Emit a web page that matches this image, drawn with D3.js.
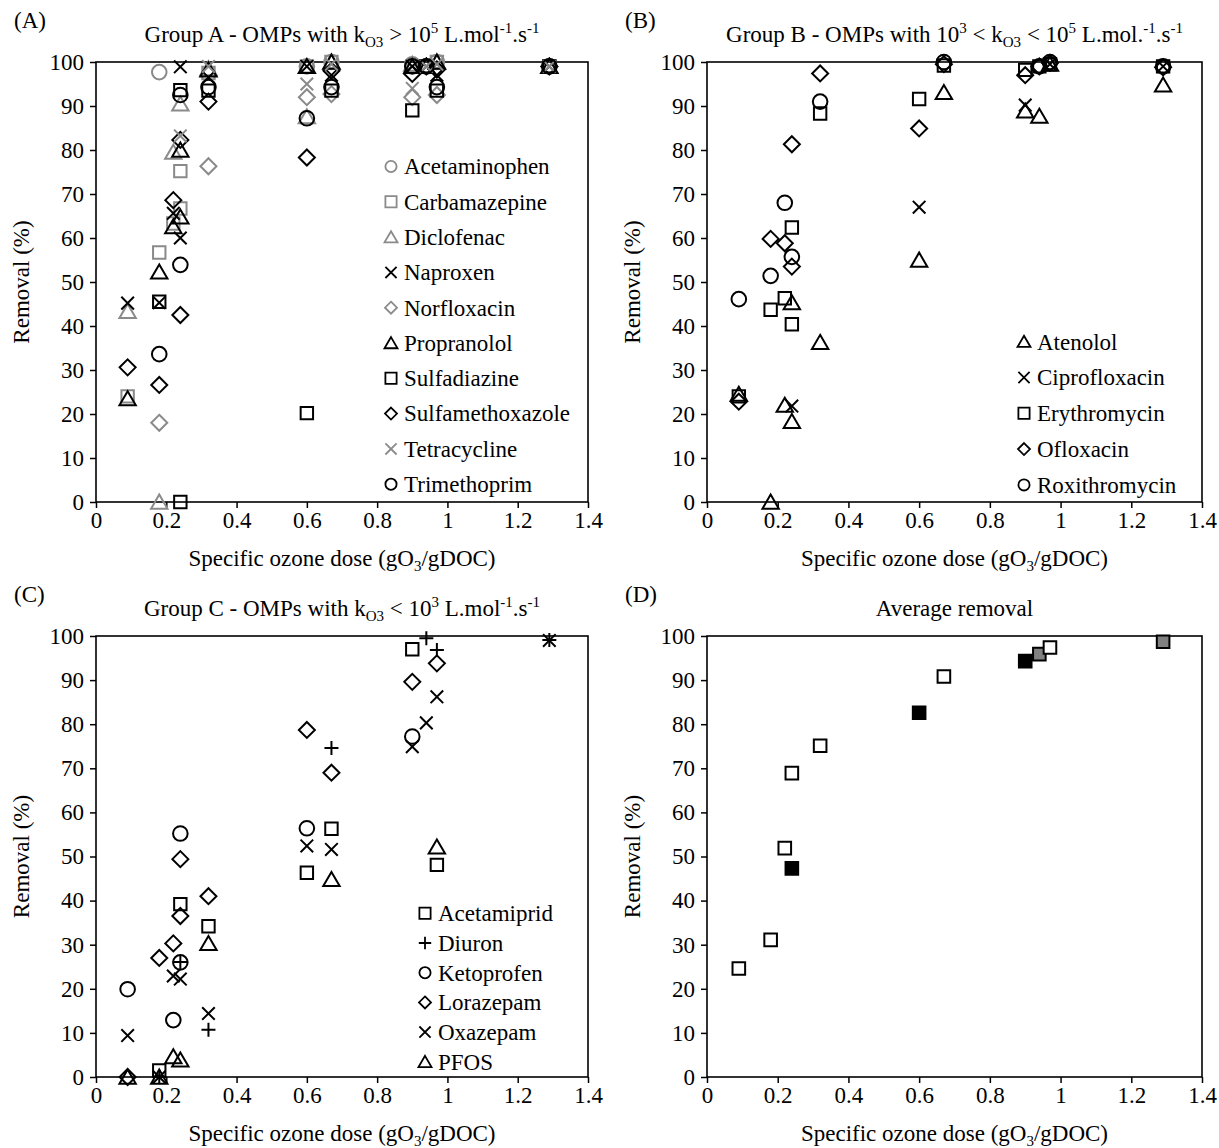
<!DOCTYPE html>
<html><head><meta charset="utf-8">
<script src="https://cdn.jsdelivr.net/npm/d3@7"></script>
<style>body{margin:0;background:#fff}svg{display:block}</style>
</head><body>
<svg id="chart" width="1219" height="1148"></svg>
<script>
// ---------------- DATA ----------------
const xTicks = [0, 0.2, 0.4, 0.6, 0.8, 1.0, 1.2, 1.4];
const yTicks = [0, 10, 20, 30, 40, 50, 60, 70, 80, 90, 100];

// Panel A - Group A
const acetaminophen = [[0.18,97.7],[0.60,99],[0.67,100],[0.90,99.5],[0.94,99],[0.97,100],[1.29,99]];
const carbamazepine = [[0.09,24],[0.18,56.7],[0.22,63.3],[0.24,75.2],[0.24,66.7],[0.32,97.5],[0.60,99],[0.67,100],[0.90,99],[0.94,99],[0.97,100],[1.29,99]];
const diclofenac = [[0.09,43.3],[0.18,0],[0.22,79.5],[0.24,90.5],[0.32,98.5],[0.60,87.6],[0.67,100],[0.90,99.5],[0.94,99],[0.97,100],[1.29,99]];
const naproxen = [[0.09,45.2],[0.18,45.3],[0.22,65.6],[0.24,98.9],[0.24,60],[0.32,96.5],[0.60,99],[0.67,97],[0.90,99],[0.94,99],[0.97,97],[1.29,99]];
const norfloxacin = [[0.18,18],[0.32,76.3],[0.60,92],[0.67,92.7],[0.90,92],[0.94,99],[0.97,92.5],[1.29,99]];
const propranolol = [[0.09,23.5],[0.18,52.3],[0.22,62.6],[0.24,80],[0.24,64.8],[0.32,98.2],[0.60,99],[0.67,100],[0.90,99],[0.94,99],[0.97,100],[1.29,99]];
const sulfadiazine = [[0.18,45.5],[0.24,93.6],[0.24,0],[0.32,93.5],[0.60,20.2],[0.67,93.5],[0.90,89],[0.94,99],[0.97,93.5],[1.29,99]];
const sulfamethoxazole = [[0.09,30.6],[0.18,26.6],[0.22,68.6],[0.24,82.3],[0.24,42.5],[0.32,91],[0.60,78.3],[0.67,98],[0.90,97.3],[0.94,99],[0.97,98.3],[1.29,99]];
const tetracycline = [[0.24,83.2],[0.32,99],[0.60,95],[0.67,99.5],[0.90,94],[0.94,99],[0.97,99.5],[1.29,99]];
const trimethoprim = [[0.18,33.6],[0.24,92.5],[0.24,53.9],[0.32,94.3],[0.60,87.2],[0.67,94.3],[0.90,99],[0.94,99],[0.97,94.3],[1.29,99]];

// Panel B - Group B
const atenolol = [[0.09,24.5],[0.18,0],[0.22,22],[0.24,45.3],[0.24,18.3],[0.32,36.3],[0.60,55],[0.67,93.1],[0.90,88.9],[0.94,87.7],[0.97,99.5],[1.29,94.8]];
const ciprofloxacin = [[0.24,21.8],[0.60,67],[0.90,90.2],[0.97,99.5],[1.29,99]];
const erythromycin = [[0.09,24],[0.18,43.7],[0.22,46.3],[0.24,62.4],[0.24,40.4],[0.32,88.3],[0.60,91.6],[0.67,99.2],[0.90,98.2],[0.94,99],[0.97,99.5],[1.29,99]];
const ofloxacin = [[0.09,22.8],[0.18,59.8],[0.22,58.8],[0.24,81.3],[0.24,53.5],[0.32,97.4],[0.60,84.9],[0.67,99.5],[0.90,97],[0.94,99],[0.97,99.8],[1.29,98.8]];
const roxithromycin = [[0.09,46.1],[0.18,51.4],[0.22,68],[0.24,55.7],[0.32,91],[0.67,100],[0.94,99],[0.97,100],[1.29,99]];

// Panel C - Group C
const acetamiprid = [[0.18,1.5],[0.24,39.2],[0.32,34.2],[0.60,46.3],[0.67,56.3],[0.90,97],[0.97,48.1]];
const diuron = [[0.18,0],[0.24,26.1],[0.32,10.7],[0.67,74.6],[0.94,99.5],[0.97,96.8],[1.29,99.1]];
const ketoprofen = [[0.09,19.9],[0.22,12.9],[0.24,55.2],[0.24,26],[0.60,56.4],[0.90,77.2]];
const lorazepam = [[0.09,0],[0.18,27],[0.22,30.3],[0.24,49.4],[0.24,36.5],[0.32,41],[0.60,78.7],[0.67,69],[0.90,89.6],[0.97,93.8]];
const oxazepam = [[0.09,9.4],[0.18,0],[0.22,22.9],[0.24,22.2],[0.32,14.4],[0.60,52.4],[0.67,51.6],[0.90,74.9],[0.94,80.3],[0.97,86.2],[1.29,99]];
const pfos = [[0.09,0],[0.18,0],[0.22,4.6],[0.24,3.9],[0.32,30.3],[0.67,44.8],[0.97,52.2]];

// Panel D - Average removal
const avgBlack = [[0.24,47.3],[0.60,82.6],[0.90,94.3]];
const avgGray = [[0.94,95.9],[1.29,98.7]];
const avgWhite = [[0.09,24.6],[0.18,31.1],[0.22,51.9],[0.24,68.9],[0.32,75.1],[0.67,90.8],[0.97,97.4]];

const seriesA = [
  {name:"Acetaminophen", data:acetaminophen, shape:"circle", gray:true},
  {name:"Carbamazepine", data:carbamazepine, shape:"square", gray:true},
  {name:"Diclofenac", data:diclofenac, shape:"triangle", gray:true},
  {name:"Naproxen", data:naproxen, shape:"x", gray:false},
  {name:"Norfloxacin", data:norfloxacin, shape:"diamond", gray:true},
  {name:"Propranolol", data:propranolol, shape:"triangle", gray:false},
  {name:"Sulfadiazine", data:sulfadiazine, shape:"square", gray:false},
  {name:"Sulfamethoxazole", data:sulfamethoxazole, shape:"diamond", gray:false},
  {name:"Tetracycline", data:tetracycline, shape:"x", gray:true},
  {name:"Trimethoprim", data:trimethoprim, shape:"circle", gray:false}
];
const seriesB = [
  {name:"Atenolol", data:atenolol, shape:"triangle", gray:false},
  {name:"Ciprofloxacin", data:ciprofloxacin, shape:"x", gray:false},
  {name:"Erythromycin", data:erythromycin, shape:"square", gray:false},
  {name:"Ofloxacin", data:ofloxacin, shape:"diamond", gray:false},
  {name:"Roxithromycin", data:roxithromycin, shape:"circle", gray:false}
];
const seriesC = [
  {name:"Acetamiprid", data:acetamiprid, shape:"square", gray:false},
  {name:"Diuron", data:diuron, shape:"plus", gray:false},
  {name:"Ketoprofen", data:ketoprofen, shape:"circle", gray:false},
  {name:"Lorazepam", data:lorazepam, shape:"diamond", gray:false},
  {name:"Oxazepam", data:oxazepam, shape:"x", gray:false},
  {name:"PFOS", data:pfos, shape:"triangle", gray:false}
];
const seriesD = [
  {data:avgBlack, fill:"#000000"},
  {data:avgGray, fill:"#808080"},
  {data:avgWhite, fill:"#ffffff"}
];

// ---------------- DRAWING ----------------
const FONT = '"Liberation Serif","Times New Roman",Times,serif';
const FS = 23;
const GRAY = "#8a8a8a";
const svg = d3.select("#chart");
svg.append("rect").attr("width",1219).attr("height",1148).attr("fill","#fff");

function shapePath(shape, r) {
  switch (shape) {
    case "circle": return `M${r},0A${r},${r} 0 1,1 ${-r},0A${r},${r} 0 1,1 ${r},0Z`;
    case "square": return `M${-r},${-r}H${r}V${r}H${-r}Z`;
    case "triangle": return `M0,${-r*0.95}L${r*1.05},${r*0.85}L${-r*1.05},${r*0.85}Z`;
    case "diamond": return `M0,${-r}L${r},0L0,${r}L${-r},0Z`;
    case "x": return `M${-r},${-r}L${r},${r}M${-r},${r}L${r},${-r}`;
    case "plus": return `M${-r},0H${r}M0,${-r}V${r}`;
  }
}
const plotR = {circle:7.3, square:6.2, triangle:7.8, diamond:8, x:6.3, plus:7};
const legR = {circle:5.6, square:5.6, triangle:6.2, diamond:6, x:5.6, plus:6.2};

function panel(cfg) {
  const x = d3.scaleLinear().domain([0, 1.4]).range([cfg.left, cfg.right]);
  const y = d3.scaleLinear().domain([0, 100]).range([cfg.bottom, cfg.top]);
  const g = svg.append("g");

  // axes
  const ax = g.append("g").attr("transform", `translate(0,${cfg.bottom})`)
    .call(d3.axisBottom(x).tickValues(xTicks).tickFormat(d3.format("~g")).tickSize(6).tickSizeOuter(0).tickPadding(4));
  const ay = g.append("g").attr("transform", `translate(${cfg.left},0)`)
    .call(d3.axisLeft(y).tickValues(yTicks).tickSize(6).tickSizeOuter(0).tickPadding(6));
  [ax, ay].forEach(a => {
    a.selectAll("text").attr("font-family", FONT).attr("font-size", FS).attr("fill", "#000");
    a.selectAll("line").attr("stroke", "#000").attr("stroke-width", 1.5);
    a.select(".domain").remove();
  });
  // frame
  g.append("rect").attr("x", cfg.left).attr("y", cfg.top)
    .attr("width", cfg.right - cfg.left).attr("height", cfg.bottom - cfg.top)
    .attr("fill", "none").attr("stroke", "#000").attr("stroke-width", 1.6);

  // axis titles
  const xt = g.append("text").attr("x", (cfg.left + cfg.right) / 2).attr("y", cfg.bottom + 64)
    .attr("text-anchor", "middle").attr("font-family", FONT).attr("font-size", FS);
  xt.append("tspan").text("Specific ozone dose (gO");
  xt.append("tspan").attr("font-size", 15).attr("dy", 5).text("3");
  xt.append("tspan").attr("dy", -5).text("/gDOC)");
  g.append("text").attr("transform", `translate(${cfg.left - 67},${(cfg.top + cfg.bottom) / 2}) rotate(-90)`)
    .attr("text-anchor", "middle").attr("font-family", FONT).attr("font-size", FS).text("Removal (%)");

  // panel label
  g.append("text").attr("x", cfg.left - 82).attr("y", cfg.top - 34)
    .attr("font-family", FONT).attr("font-size", FS).text(cfg.label);

  // title
  const tt = g.append("text").attr("x", (cfg.left + cfg.right) / 2 + (cfg.titleShift || 0)).attr("y", cfg.top - 20)
    .attr("text-anchor", "middle").attr("font-family", FONT).attr("font-size", FS);
  cfg.title.forEach(p => {
    const ts = tt.append("tspan").text(p.t);
    if (p.sub) ts.attr("font-size", 15).attr("dy", 5);
    if (p.sup) ts.attr("font-size", 15).attr("dy", -9);
    if (p.back) ts.attr("dy", p.back);
  });

  // series
  if (cfg.series) {
    cfg.series.forEach(s => {
      const col = s.gray ? GRAY : "#000";
      g.append("g").selectAll("path").data(s.data).join("path")
        .attr("transform", d => `translate(${x(d[0])},${y(d[1])})`)
        .attr("d", shapePath(s.shape, plotR[s.shape]))
        .attr("fill", "none").attr("stroke", col).attr("stroke-width", 2);
    });
    // legend
    cfg.series.forEach((s, i) => {
      const col = s.gray ? GRAY : "#000";
      const ly = cfg.legY + i * cfg.legStep;
      g.append("path").attr("transform", `translate(${cfg.legX},${ly})`)
        .attr("d", shapePath(s.shape, legR[s.shape]))
        .attr("fill", "none").attr("stroke", col).attr("stroke-width", 1.8);
      g.append("text").attr("x", cfg.legX + 13).attr("y", ly).attr("dy", "0.34em")
        .attr("font-family", FONT).attr("font-size", FS).text(s.name);
    });
  }
  if (cfg.squares) {
    cfg.squares.forEach(s => {
      g.append("g").selectAll("path").data(s.data).join("path")
        .attr("transform", d => `translate(${x(d[0])},${y(d[1])})`)
        .attr("d", shapePath("square", 6.3))
        .attr("fill", s.fill).attr("stroke", "#000").attr("stroke-width", 2);
    });
  }
}

panel({label:"(A)", left:96, right:588, top:62, bottom:502, series:seriesA,
  legX:391, legY:166.5, legStep:35.3,
  title:[{t:"Group A - OMPs with k"},{t:"O3",sub:true},{t:" > 10",back:-5},{t:"5",sup:true},{t:" L.mol",back:9},{t:"-1",sup:true},{t:".s",back:9},{t:"-1",sup:true}]});
panel({label:"(B)", left:707, right:1202, top:62, bottom:502, series:seriesB,
  legX:1024, legY:341.7, legStep:35.8,
  title:[{t:"Group B - OMPs with 10"},{t:"3",sup:true},{t:" < k",back:9},{t:"O3",sub:true},{t:" < 10",back:-5},{t:"5",sup:true},{t:" L.mol.",back:9},{t:"-1",sup:true},{t:".s",back:9},{t:"-1",sup:true}]});
panel({label:"(C)", left:96, right:588, top:636, bottom:1077, series:seriesC,
  legX:425, legY:913.3, legStep:29.7,
  title:[{t:"Group C - OMPs with k"},{t:"O3",sub:true},{t:" < 10",back:-5},{t:"3",sup:true},{t:" L.mol",back:9},{t:"-1",sup:true},{t:".s",back:9},{t:"-1",sup:true}]});
panel({label:"(D)", left:707, right:1202, top:636, bottom:1077, squares:seriesD,
  title:[{t:"Average removal"}]});
</script>
</body></html>
